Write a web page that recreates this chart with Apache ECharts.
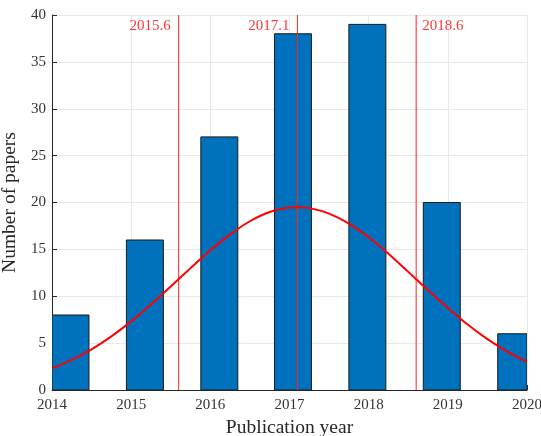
<!DOCTYPE html>
<html>
<head>
<meta charset="utf-8">
<script src="https://cdn.jsdelivr.net/npm/echarts@6/dist/echarts.min.js"></script>
<style>
  html, body { margin: 0; padding: 0; background: #fff; }
  #chart { width: 541px; height: 436px; }
</style>
</head>
<body>
<div id="chart"></div>
<script>
// Histogram bins: left edge (year) and paper count
const binStarts = [2014, 2014.94, 2015.88, 2016.81, 2017.75, 2018.69, 2019.63];
const counts = [8, 16, 27, 38, 39, 20, 6];

// Fitted normal curve, sampled every quarter year
const curveYears = [2014, 2014.25, 2014.5, 2014.75, 2015, 2015.25, 2015.5, 2015.75,
  2016, 2016.25, 2016.5, 2016.75, 2017, 2017.1, 2017.25, 2017.5, 2017.75,
  2018, 2018.25, 2018.5, 2018.75, 2019, 2019.25, 2019.5, 2019.75, 2020];
const curveValues = [2.3, 3.21, 4.34, 5.72, 7.32, 9.11, 11.04, 13.0,
  14.9, 16.6, 18.0, 18.98, 19.46, 19.5, 19.4, 18.82, 17.75,
  16.3, 14.54, 12.6, 10.65, 8.74, 6.98, 5.42, 4.1, 3.01];

// Mean and mean ± one standard deviation
const markers = [2015.6, 2017.1, 2018.6];

const xTicks = [2014, 2015, 2016, 2017, 2018, 2019, 2020];

const BAR_SPAN = 0.467; // bar width in years
const FONT = '"Liberation Serif", "DejaVu Serif", serif';
const AXIS_COLOR = '#262626';

const chart = echarts.init(document.getElementById('chart'), null, { renderer: 'canvas' });

const barData = binStarts.map((s, i) => [s, counts[i]]);

const markerSeries = markers.map(m => ({
  type: 'line',
  data: [[m, 0], [m, 40]],
  symbol: 'none',
  silent: true,
  lineStyle: { color: '#ff2020', width: 1 },
  z: 4
}));

const markerLabels = {
  type: 'scatter',
  symbolSize: 0,
  silent: true,
  data: markers.map((m, i) => {
    const last = i === markers.length - 1;
    return {
      value: [m, 40],
      label: {
        show: true,
        formatter: String(m),
        position: last ? [6, 4] : [-8, 4],
        align: last ? 'left' : 'right',
        verticalAlign: 'top',
        color: '#ff0000',
        fontFamily: FONT,
        fontSize: 15
      }
    };
  }),
  z: 6
};

chart.setOption({
  animation: false,
  grid: { left: 52, right: 14, top: 15, bottom: 46, containLabel: false, outerBoundsMode: 'none' },
  xAxis: {
    type: 'value',
    min: 2014,
    max: 2020,
    interval: 1,
    name: 'Publication year',
    nameLocation: 'middle',
    nameGap: 28,
    nameTextStyle: { fontFamily: FONT, fontSize: 19.5, color: AXIS_COLOR },
    axisLine: { show: true, lineStyle: { color: AXIS_COLOR, width: 1 } },
    axisTick: { show: true, inside: true, length: 5, lineStyle: { color: AXIS_COLOR } },
    axisLabel: {
      fontFamily: FONT, fontSize: 15, color: '#333', margin: 8,
      formatter: v => xTicks.includes(v) ? String(v) : ''
    },
    splitLine: { show: true, lineStyle: { color: '#e8e8e8', width: 1 } }
  },
  yAxis: {
    type: 'value',
    min: 0,
    max: 40,
    interval: 5,
    name: 'Number of papers',
    nameLocation: 'middle',
    nameGap: 27,
    nameTextStyle: { fontFamily: FONT, fontSize: 19.5, color: AXIS_COLOR },
    axisLine: { show: true, lineStyle: { color: AXIS_COLOR, width: 1 } },
    axisTick: { show: true, inside: true, length: 5, lineStyle: { color: AXIS_COLOR } },
    axisLabel: { fontFamily: FONT, fontSize: 15, color: '#333', margin: 6 },
    splitLine: { show: true, lineStyle: { color: '#e8e8e8', width: 1 } }
  },
  series: [
    {
      type: 'custom',
      clip: true,
      data: barData,
      renderItem: function (params, api) {
        const x0 = api.value(0);
        const top = api.coord([x0, api.value(1)]);
        const base = api.coord([x0 + BAR_SPAN, 0]);
        const rect = echarts.graphic.clipRectByRect(
          { x: top[0], y: top[1], width: base[0] - top[0], height: base[1] - top[1] },
          { x: params.coordSys.x, y: params.coordSys.y, width: params.coordSys.width, height: params.coordSys.height }
        );
        if (!rect) return null;
        return {
          type: 'rect',
          shape: rect,
          style: { fill: '#0072BD', stroke: '#1a1a1a', lineWidth: 1 }
        };
      },
      z: 3
    },
    ...markerSeries,
    {
      type: 'line',
      data: curveYears.map((x, i) => [x, curveValues[i]]),
      smooth: 0.3,
      symbol: 'none',
      silent: true,
      lineStyle: { color: '#ff0000', width: 2 },
      z: 5
    },
    markerLabels
  ]
});
</script>
</body>
</html>
